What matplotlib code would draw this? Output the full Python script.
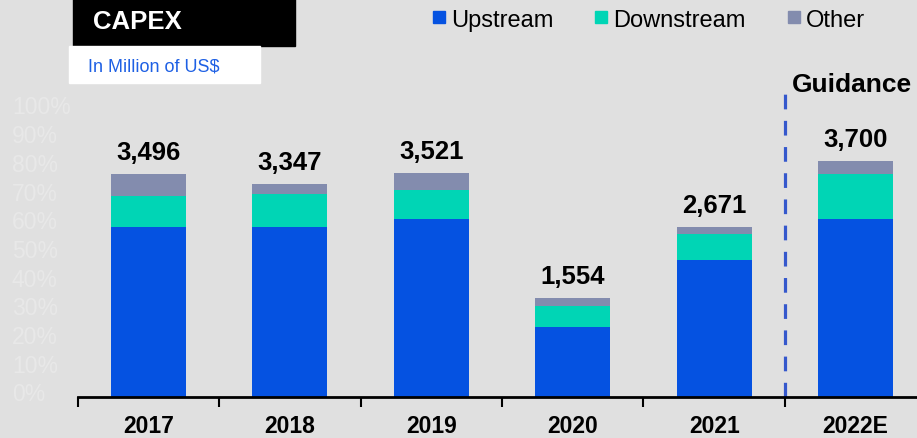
import matplotlib
matplotlib.use("Agg")
import matplotlib.pyplot as plt
import matplotlib.transforms as mtransforms
from matplotlib.patches import Rectangle
import numpy as np

plt.rcParams['font.family'] = ['Liberation Sans', 'DejaVu Sans']

# CAPEX by segment, million US$
years = ['2017', '2018', '2019', '2020', '2021', '2022E']
upstream = [2665, 2672, 2789, 1092, 2152, 2793]
downstream = [486, 517, 459, 336, 415, 710]
other = [345, 158, 273, 126, 104, 197]
totals = [3496, 3347, 3521, 1554, 2671, 3700]
pct_labels = ['%d%%' % p for p in range(0, 101, 10)]

c_up = '#0552E1'
c_down = '#00D5B5'
c_other = '#838CAE'
bg = '#E0E0E0'

W, H = 917, 439
fig = plt.figure(figsize=(W / 100, H / 100), dpi=100, facecolor=bg)
ax = fig.add_axes([77.8 / W, 41 / H, 1 - 77.8 / W, 1 - 41 / H])
ax.set_facecolor(bg)

x = np.arange(len(years))
width = 0.53
up = np.array(upstream)
down = np.array(downstream)
oth = np.array(other)
ax.bar(x, up, width, color=c_up, label='Upstream')
ax.bar(x, down, width, bottom=up, color=c_down, label='Downstream')
ax.bar(x, oth, width, bottom=up + down, color=c_other, label='Other')

for xi, t in zip(x, totals):
    ax.annotate(f'{t:,}', (xi, t), xytext=(0, 10.8), textcoords='offset points',
                ha='center', va='baseline', fontsize=18.5, fontweight='bold')

ax.set_xlim(-0.5, (W - 148) / 141.5)
ax.set_ylim(0, 6250)

# year boundaries as ticks, year names between them
ax.set_xticks(np.arange(len(years)) - 0.5)
ax.set_xticklabels([])
ax.set_xticks(x, minor=True)
ax.set_xticklabels(years, minor=True, fontsize=16.5, fontweight='bold')
ax.tick_params(axis='x', which='major', length=7, width=1.5, color='black')
ax.tick_params(axis='x', which='minor', length=0, pad=12.5)
ax.set_yticks([])
for s in ['top', 'right', 'left']:
    ax.spines[s].set_visible(False)
ax.spines['bottom'].set_linewidth(2)

# faint percentage scale on the left
trans = mtransforms.blended_transform_factory(fig.transFigure, ax.transAxes)
for i, lab in enumerate(pct_labels):
    yf = (3 + i * 28.7) / 398
    ax.text(12 / W, yf, lab, transform=trans, ha='left', va='center',
            fontsize=16.5, color='#E8E8E8')

# forecast separator
ax.axvline(4.5, ymin=0, ymax=(398 - 89) / 398, color='#3558CC', lw=2.3,
           linestyle=(0, (4.6, 3.6)))
ax.text(851.7 / W, (H - 92.3) / H, 'Guidance', transform=fig.transFigure,
        ha='center', va='baseline', fontsize=19, fontweight='bold')

# title boxes
fig.patches.append(Rectangle((73 / W, (H - 47) / H), 222 / W, 47 / H,
                             transform=fig.transFigure, color='black', zorder=0))
fig.patches.append(Rectangle((69 / W, (H - 84.3) / H), 191 / W, 37.6 / H,
                             transform=fig.transFigure, color='white', zorder=0))
fig.text(92.7 / W, (H - 21.7) / H, 'CAPEX', color='white', fontsize=18.5,
         fontweight='bold', va='center', ha='left')
fig.text(88.3 / W, (H - 66.7) / H, 'In Million of US$', color='#1E60E4',
         fontsize=13, va='center', ha='left')

# legend
for sx, tx, name, col in [(433, 450.7, 'Upstream', c_up),
                          (595, 613.3, 'Downstream', c_down),
                          (788, 805.7, 'Other', c_other)]:
    fig.patches.append(Rectangle((sx / W, (H - 24) / H), 12.3 / W, 12.3 / H,
                                 transform=fig.transFigure, color=col))
    fig.text(tx / W, (H - 26.7) / H, name, fontsize=17, va='baseline', ha='left')

fig.savefig('out.png', dpi=100, facecolor=bg)
